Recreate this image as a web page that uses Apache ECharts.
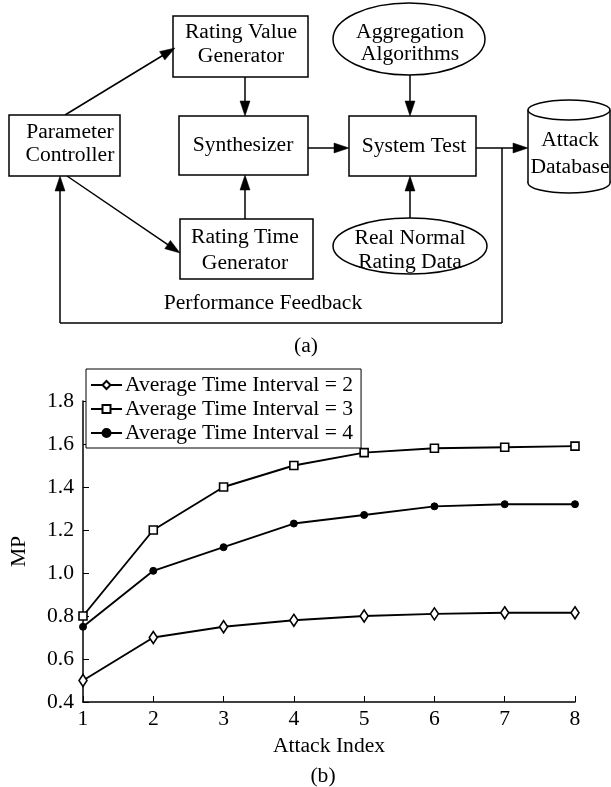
<!DOCTYPE html>
<html>
<head>
<meta charset="utf-8">
<script src="https://cdn.jsdelivr.net/npm/echarts@6/dist/echarts.min.js"></script>
<style>
html,body{margin:0;padding:0;background:#fff;}
#chart{width:611px;height:787px;}
</style>
</head>
<body>
<div id="chart"></div>
<script>
// ---- Data ----
const attackIndex = [1, 2, 3, 4, 5, 6, 7, 8];
const mpInterval2 = [0.50, 0.70, 0.75, 0.78, 0.80, 0.81, 0.815, 0.815];
const mpInterval3 = [0.80, 1.20, 1.40, 1.50, 1.56, 1.58, 1.585, 1.59];
const mpInterval4 = [0.75, 1.01, 1.12, 1.23, 1.27, 1.31, 1.32, 1.32];
const seriesNames = ['Average Time Interval = 2', 'Average Time Interval = 3', 'Average Time Interval = 4'];
const yTicks = [0.4, 0.6, 0.8, 1.0, 1.2, 1.4, 1.6, 1.8];

const FONT = "'Liberation Serif', 'Times New Roman', serif";
const FS = 21.6;
const LW = 1.5;

// ---- Diagram helpers ----
function rect(x, y, w, h) {
  return {type: 'rect', shape: {x: x, y: y, width: w, height: h},
    style: {fill: '#fff', stroke: '#000', lineWidth: LW}, z: 2};
}
function ell(cx, cy, rx, ry, z) {
  return {type: 'ellipse', shape: {cx: cx, cy: cy, rx: rx, ry: ry},
    style: {fill: '#fff', stroke: '#000', lineWidth: LW}, z: z || 2};
}
function txt(s, x, y) {
  return {type: 'text', x: x, y: y, z: 5,
    style: {text: s, fill: '#000', font: FS + 'px ' + FONT, textAlign: 'center', textVerticalAlign: 'middle'}};
}
function seg(x1, y1, x2, y2) {
  return {type: 'line', shape: {x1: x1, y1: y1, x2: x2, y2: y2},
    style: {stroke: '#000', lineWidth: LW}, z: 1};
}
function arrow(x1, y1, x2, y2) {
  const L = 15, W = 5;
  const dx = x2 - x1, dy = y2 - y1, len = Math.hypot(dx, dy);
  const ux = dx / len, uy = dy / len;
  const bx = x2 - ux * L, by = y2 - uy * L;
  return [
    seg(x1, y1, bx + ux * 2, by + uy * 2),
    {type: 'polygon', z: 3, shape: {points: [[x2, y2], [bx - uy * W, by + ux * W], [bx + uy * W, by - ux * W]]},
      style: {fill: '#000', stroke: '#000', lineWidth: 0.5}}
  ];
}

const g = [];
// boxes
g.push(rect(9, 115, 111, 61));     // Parameter Controller
g.push(rect(173, 16, 135, 61));    // Rating Value Generator
g.push(rect(179, 116, 129, 59));   // Synthesizer
g.push(rect(180, 219, 133, 60));   // Rating Time Generator
g.push(rect(349, 116, 127, 60));   // System Test
g.push(ell(409, 39, 76, 36));      // Aggregation Algorithms
g.push(ell(410, 246, 77, 28));     // Real Normal Rating Data
// cylinder
g.push(ell(569, 183, 41, 10, 2));
g.push({type: 'rect', shape: {x: 528, y: 110, width: 82, height: 73}, style: {fill: '#fff'}, z: 3});
g.push(Object.assign(seg(528, 110, 528, 183), {z: 4}));
g.push(Object.assign(seg(610, 110, 610, 183), {z: 4}));
g.push(ell(569, 110, 41, 10, 4));
// arrows
g.push(...arrow(65, 115, 175, 48));
g.push(...arrow(67, 176, 180, 253));
g.push(...arrow(245, 77, 245, 116));
g.push(...arrow(245, 219, 245, 175));
g.push(...arrow(308, 148, 349, 148));
g.push(...arrow(410, 75, 410, 116));
g.push(...arrow(410, 218, 410, 176));
g.push(...arrow(476, 148, 528, 148));
// feedback loop
g.push(seg(502, 148, 502, 323));
g.push(seg(502, 323, 60, 323));
g.push(...arrow(60, 323, 60, 176));
// texts
g.push(txt('Parameter', 70, 132), txt('Controller', 70, 155));
g.push(txt('Rating Value', 241, 32), txt('Generator', 241, 56));
g.push(txt('Synthesizer', 243, 145));
g.push(txt('Rating Time', 245, 237), txt('Generator', 245, 263));
g.push(txt('System Test', 414, 146));
g.push(txt('Aggregation', 410, 32), txt('Algorithms', 410, 54));
g.push(txt('Real Normal', 410, 238), txt('Rating Data', 410, 262));
g.push(txt('Attack', 570, 140), txt('Database', 570, 167));
g.push(txt('Performance Feedback', 263, 303));
g.push(txt('(a)', 306, 346));
g.push(txt('(b)', 323, 776));

// ---- Chart ----
function pairs(arr) { return attackIndex.map((x, i) => [x, arr[i]]); }
const lineStyle = {color: '#000', width: 1.9};

const option = {
  animation: false,
  backgroundColor: '#fff',
  textStyle: {fontFamily: FONT, color: '#000'},
  grid: {left: 71, right: 36, top: 401, bottom: 85, containLabel: false},
  legend: {
    orient: 'vertical', left: 86, top: 369,
    data: seriesNames,
    itemWidth: 31, itemHeight: 10, itemGap: 2,
    padding: [5, 8, 4, 4],
    borderColor: '#000', borderWidth: 1,
    backgroundColor: '#fff',
    textStyle: {fontFamily: FONT, fontSize: FS, color: '#000', padding: [0, 0, 0, -2], lineHeight: 21},
    inactiveColor: '#000'
  },
  xAxis: {
    type: 'value', min: 1, max: 8, interval: 1,
    name: 'Attack Index', nameLocation: 'middle', nameGap: 33,
    nameTextStyle: {fontFamily: FONT, fontSize: FS, color: '#000'},
    axisLine: {show: true, lineStyle: {color: '#000', width: LW}},
    axisTick: {show: true, inside: true, length: 6, lineStyle: {color: '#000', width: 1}},
    axisLabel: {fontFamily: FONT, fontSize: FS, color: '#000', margin: 6},
    splitLine: {show: false}
  },
  yAxis: {
    type: 'value', min: 0.4, max: 1.8, interval: 0.2,
    name: 'MP', nameLocation: 'middle', nameGap: 53, nameRotate: 90,
    nameTextStyle: {fontFamily: FONT, fontSize: FS, color: '#000'},
    axisLine: {show: true, lineStyle: {color: '#000', width: LW}},
    axisTick: {show: true, inside: true, length: 6, lineStyle: {color: '#000', width: 1}},
    axisLabel: {fontFamily: FONT, fontSize: FS, color: '#000', margin: 9,
      formatter: v => v.toFixed(1)},
    splitLine: {show: false}
  },
  series: [
    {name: seriesNames[0], type: 'line', data: pairs(mpInterval2),
      symbol: 'diamond', symbolSize: [8, 12], showAllSymbol: true,
      lineStyle: lineStyle, itemStyle: {color: '#fff', borderColor: '#000', borderWidth: 1.6}},
    {name: seriesNames[1], type: 'line', data: pairs(mpInterval3),
      symbol: 'rect', symbolSize: 8, showAllSymbol: true,
      lineStyle: lineStyle, itemStyle: {color: '#fff', borderColor: '#000', borderWidth: 1.6}},
    {name: seriesNames[2], type: 'line', data: pairs(mpInterval4),
      symbol: 'circle', symbolSize: 7, showAllSymbol: true,
      lineStyle: lineStyle, itemStyle: {color: '#000', borderColor: '#000', borderWidth: 1}}
  ],
  graphic: g
};

const chart = echarts.init(document.getElementById('chart'), null, {renderer: 'canvas'});
chart.setOption(option);
</script>
</body>
</html>
